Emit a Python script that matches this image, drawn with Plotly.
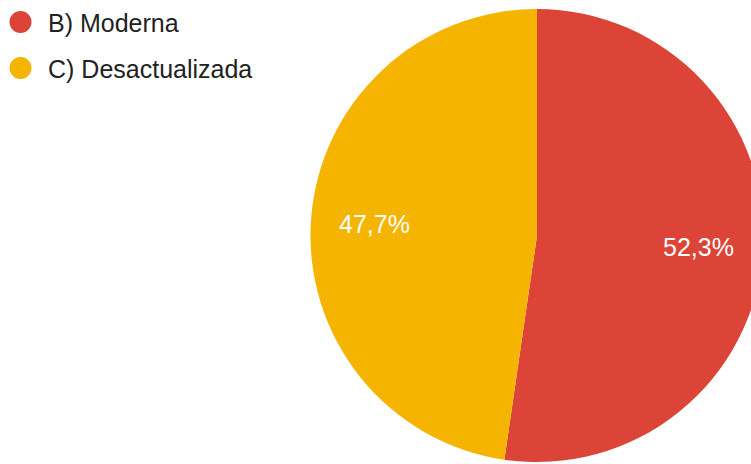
import math
import plotly.graph_objects as go

# Survey answers and their shares (%)
categories = ["B) Moderna", "C) Desactualizada"]
shares = [52.3, 47.7]
colors = ["#DB4437", "#F4B400"]

W, H = 764, 464
FONT = "Liberation Sans, Arial, sans-serif"

# Pie placement in pixels (domain box)
PIE_LEFT, PIE_RIGHT = 310, 764
PIE_TOP, PIE_BOTTOM = 9, 462
LABEL_RADIUS = 0.715  # fraction of the radius where the percentages sit

fig = go.Figure()

fig.add_trace(go.Pie(
    labels=categories,
    values=shares,
    marker=dict(colors=colors, line=dict(width=0)),
    sort=False,
    direction="clockwise",
    rotation=0,
    textinfo="none",
    hoverinfo="label+percent",
    showlegend=False,
    domain=dict(x=[PIE_LEFT / W, PIE_RIGHT / W],
                y=[(H - PIE_BOTTOM) / H, (H - PIE_TOP) / H]),
))

# Percentage labels placed on each slice's bisector
cx = PIE_LEFT + min(PIE_RIGHT - PIE_LEFT, PIE_BOTTOM - PIE_TOP) / 2
cy = (PIE_TOP + PIE_BOTTOM) / 2
r = min(PIE_RIGHT - PIE_LEFT, PIE_BOTTOM - PIE_TOP) / 2
total = sum(shares)
start = 0.0
for val in shares:
    frac = val / total
    mid = 2 * math.pi * (start + frac / 2)  # clockwise from 12 o'clock
    start += frac
    px = cx + LABEL_RADIUS * r * math.sin(mid)
    py = cy - LABEL_RADIUS * r * math.cos(mid)
    fig.add_annotation(
        x=px / W, y=1 - py / H, xref="paper", yref="paper",
        xanchor="center", yanchor="middle", showarrow=False,
        text=f"{frac * 100:.1f}%".replace(".", ","),
        font=dict(family=FONT, size=25, color="white"),
    )

# Legend rows: a round swatch and the category name
row_y = [22, 68]
for name, col, py in zip(categories, colors, row_y):
    yp = 1 - py / H
    fig.add_shape(
        type="circle", xref="paper", yref="paper",
        xsizemode="pixel", ysizemode="pixel",
        xanchor=20.5 / W, yanchor=yp,
        x0=-11, x1=11, y0=-11, y1=11,
        fillcolor=col, line=dict(width=0),
    )
    fig.add_annotation(
        x=46 / W, y=1 - (py + 1) / H, xref="paper", yref="paper",
        xanchor="left", yanchor="middle",
        text=name, showarrow=False,
        font=dict(family=FONT, size=25, color="#222222"),
    )

fig.update_layout(
    width=W, height=H,
    margin=dict(l=0, r=0, t=0, b=0),
    paper_bgcolor="white",
    plot_bgcolor="white",
    separators=",.",
    font=dict(family=FONT),
)

fig.write_html(
    "out.html",
    post_script="document.body.style.margin='0';"
                "document.documentElement.style.overflow='hidden';"
                "document.body.style.overflow='hidden';",
)
